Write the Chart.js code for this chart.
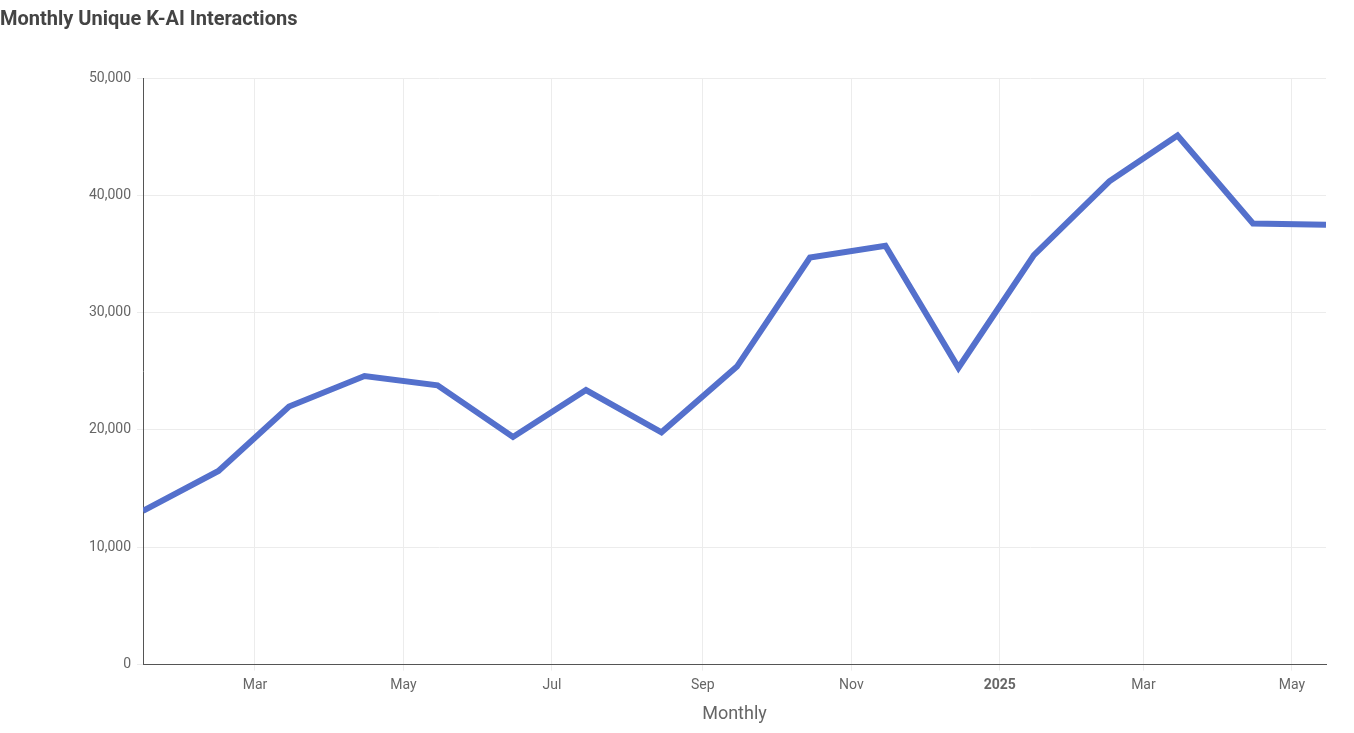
<!DOCTYPE html>
<html><head><meta charset="utf-8">
<script src="https://cdn.jsdelivr.net/npm/chart.js@4"></script>
<style>html,body{margin:0;padding:0;background:#fff}#w{width:1354px;height:733px}</style>
</head><body><div id="w"><canvas id="c"></canvas></div>
<script>
const pointDates = ["2024-01-15","2024-02-15","2024-03-15","2024-04-15","2024-05-15","2024-06-15","2024-07-15","2024-08-15","2024-09-15","2024-10-15","2024-11-15","2024-12-15","2025-01-15","2025-02-15","2025-03-15","2025-04-15","2025-05-15"];
const interactions = [13100,16500,22000,24600,23800,19400,23400,19800,25400,34700,35700,25300,34900,41200,45100,37600,37500];
const tickDates = ["2024-03-01","2024-05-01","2024-07-01","2024-09-01","2024-11-01","2025-01-01","2025-03-01","2025-05-01"];
const tickLabels = ["Mar","May","Jul","Sep","Nov","2025","Mar","May"];
const day = s => Date.UTC(+s.slice(0,4), +s.slice(5,7)-1, +s.slice(8,10)) / 86400000;
const xs = pointDates.map(day);
const tx = tickDates.map(day);
new Chart(document.getElementById('c'), {
  type: 'line',
  data: { datasets: [{ data: xs.map((x,i)=>({x, y: interactions[i]})), borderColor: '#5470cc', borderWidth: 6, pointRadius: 0, tension: 0 }] },
  options: {
    responsive: true, maintainAspectRatio: false, animation: false,
    layout: { padding: { left: 0, right: 28, top: 0, bottom: 4 } },
    plugins: {
      legend: { display: false }, tooltip: { enabled: false },
      title: { display: true, text: 'Monthly Unique K-AI Interactions', align: 'start', color: '#444', font: { family: 'Roboto', size: 20, weight: 'bold' }, padding: { top: 8, bottom: 46 } }
    },
    scales: {
      x: {
        type: 'linear', min: xs[0], max: xs[xs.length-1],
        afterBuildTicks: s => { s.ticks = tx.map(v => ({ value: v })); },
        ticks: { autoSkip: false, maxRotation: 0, color: '#666', padding: 6,
          callback: (v, i) => tickLabels[i],
          font: c => ({ family: 'Roboto', size: 14, weight: tickLabels[c.index] === '2025' ? 'bold' : 'normal' }) },
        grid: { color: '#ececec', drawTicks: true, tickLength: 6 },
        border: { color: '#555' },
        title: { display: true, text: 'Monthly', color: '#666', font: { family: 'Roboto', size: 18 } }
      },
      y: {
        min: 0, max: 50000,
        ticks: { stepSize: 10000, color: '#666', font: { family: 'Roboto', size: 14 }, padding: 6 },
        grid: { color: '#ececec', tickLength: 6 },
        border: { color: '#555' },
        afterFit: s => { s.width = 143; }
      }
    }
  }
});
</script></body></html>
